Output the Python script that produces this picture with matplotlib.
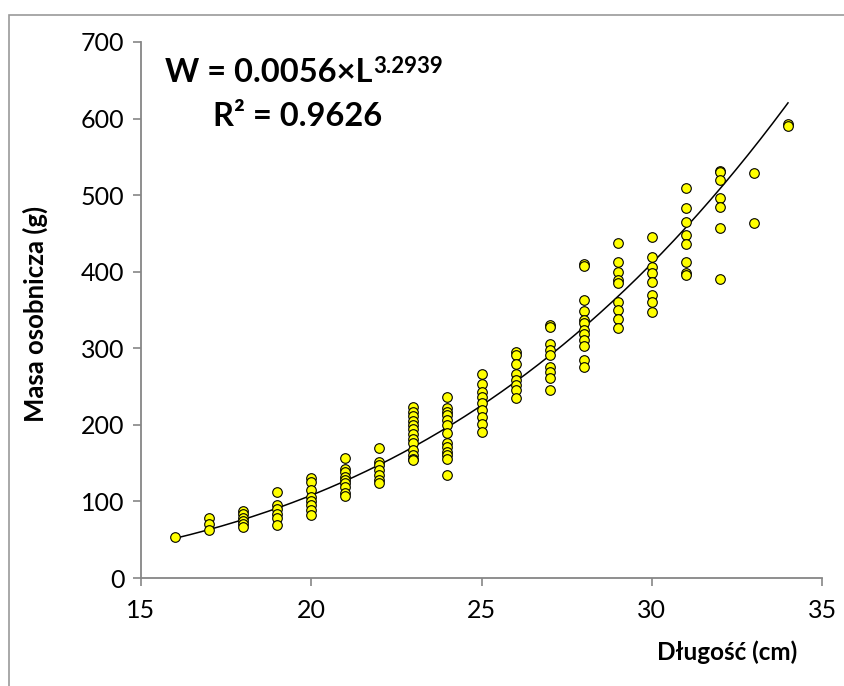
import matplotlib.pyplot as plt
from matplotlib.patches import Rectangle
import numpy as np

plt.rcParams['font.family'] = ['Lato', 'DejaVu Sans']

# długość (cm) i masy osobników zmierzone dla każdej długości (g)
dlugosci = [16, 17, 18, 19, 20, 21, 22, 23, 24, 25, 26, 27, 28, 29, 30, 31, 32, 33, 34]
masy = [
    [53],
    [79, 71, 63],
    [88, 84, 79, 75, 71, 67],
    [112, 95, 90, 84, 79, 69],
    [131, 126, 115, 106, 100, 95, 89, 82],
    [157, 143, 139, 132, 128, 124, 119, 111, 107],
    [170, 152, 148, 141, 134, 128, 124],
    [223, 217, 211, 205, 200, 194, 188, 181, 176, 167, 161, 156, 154],
    [236, 222, 217, 213, 206, 200, 189, 176, 171, 165, 161, 156, 134],
    [266, 254, 243, 237, 229, 219, 210, 201, 191],
    [295, 291, 280, 267, 258, 252, 245, 235],
    [330, 328, 305, 298, 291, 276, 269, 261, 245],
    [410, 407, 363, 349, 337, 333, 324, 319, 311, 303, 285, 276],
    [438, 413, 400, 389, 385, 361, 350, 338, 326],
    [445, 419, 406, 398, 386, 369, 360, 348],
    [509, 483, 465, 448, 436, 413, 398, 396],
    [532, 530, 520, 496, 485, 457, 391],
    [529, 464],
    [593, 590],
]

# parametry krzywej potęgowej W = a * L^b
a = 0.0056
b = 3.2939
r2 = 0.9626

x = np.concatenate([[d] * len(m) for d, m in zip(dlugosci, masy)])
y = np.concatenate(masy)

fig = plt.figure(figsize=(8.44, 6.86), dpi=100)
ax = fig.add_axes([0.167, 0.1574, 0.807, 0.7814])

# ramka wykresu
fig.patches.append(Rectangle((9 / 844, -0.05), 1.0, 1 - 15 / 686 + 0.05,
                             transform=fig.transFigure, fill=False,
                             edgecolor='#9a9a9a', linewidth=1.2))

L = np.linspace(min(dlugosci), max(dlugosci), 200)
ax.plot(L, a * L ** b, color='black', linewidth=1.1, zorder=2)
ax.scatter(x, y, s=48, color='#ffff00', edgecolors='black', linewidths=0.8, zorder=3)

ax.set_xlim(15, 35)
ax.set_ylim(0, 700)
ax.set_xticks([15, 20, 25, 30, 35])
ax.set_yticks(range(0, 701, 100))
for side in ['top', 'right']:
    ax.spines[side].set_visible(False)
for side in ['left', 'bottom']:
    ax.spines[side].set_color('#868686')
    ax.spines[side].set_linewidth(1.3)
ax.tick_params(direction='out', length=6, width=1.2, color='#868686',
               labelsize=18, pad=6)
ax.tick_params(axis='x', pad=9)

fig.text(35 / 844, 1 - 314 / 686, 'Masa osobnicza (g)', rotation=90,
         ha='center', va='center', fontsize=18.5, fontweight='bold')
fig.text(727 / 844, 1 - 652 / 686, 'Długość (cm)', ha='center', va='center',
         fontsize=17.5, fontweight='bold')

t1 = fig.text(165 / 844, 1 - 72 / 686, 'W = %.4f×L' % a, ha='left', va='center',
              fontsize=23.5, fontweight='bold')
ax.annotate('%.4f' % b, xy=(1, 1), xycoords=t1, xytext=(0.5, 1),
            textcoords='offset points', ha='left', va='top',
            fontsize=16, fontweight='bold')
fig.text(213 / 844, 1 - 116 / 686, 'R² = %.4f' % r2, ha='left', va='center',
         fontsize=23.5, fontweight='bold')

fig.savefig('out.png', dpi=100)
